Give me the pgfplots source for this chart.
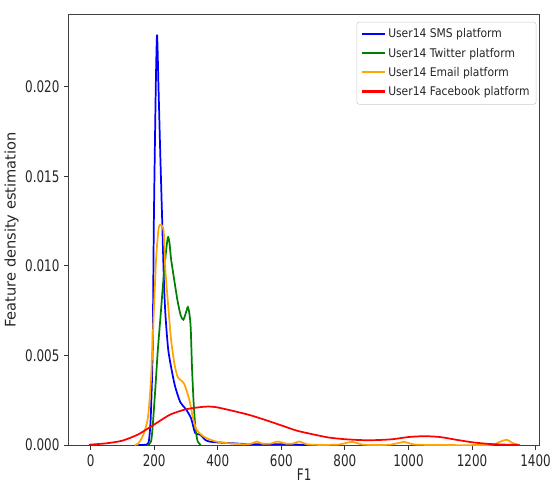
\documentclass[border=0pt]{standalone}
\usepackage{pgfplots}
\pgfplotsset{compat=1.18}
\usepackage{fontspec}
\setmainfont[FakeStretch=0.75]{DejaVu Sans}
\newfontfamily\legfont[FakeStretch=0.9]{DejaVu Sans}
\newfontfamily\labfont{DejaVu Sans}

\definecolor{mplblue}{HTML}{0000FF}
\definecolor{mplgreen}{HTML}{008000}
\definecolor{mplorange}{HTML}{FFA500}
\definecolor{mplred}{HTML}{FF0000}

\begin{document}
\begin{tikzpicture}
% fixed canvas around the axis frame
\path[use as bounding box] (-51.75pt,-31.5pt) rectangle (362.5pt,335.25pt);
\begin{axis}[
  at={(0pt,0pt)}, anchor=south west,
  scale only axis,
  width=354.75pt, height=324pt,
  xmin=-69, xmax=1413,
  ymin=0, ymax=0.024,
  xtick={0,200,400,600,800,1000,1200,1400},
  xticklabels={0,200,400,600,800,1000,1200,1400},
  ytick={0,0.005,0.010,0.015,0.020},
  yticklabels={0.000,0.005,0.010,0.015,0.020},
  scaled y ticks=false,
  tick pos=left,
  /pgf/number format/assume math mode=true,
  tick align=outside,
  major tick length=3.5pt,
  tick style={black!80, line width=0.6pt},
  axis line style={black!75, line width=0.7pt},
  every tick label/.append style={font=\fontsize{12}{14}\selectfont, text=black!85},
  xlabel={F1},
  ylabel={Feature density estimation},
  xlabel style={font=\fontsize{12}{14}\selectfont, text=black!85, yshift=5pt},
  ylabel style={font=\labfont\fontsize{11}{13}\selectfont, text=black!85, yshift=-2pt},
  legend style={
    at={(rel axis cs:0.993,0.984)}, anchor=north east,
    font=\legfont\fontsize{9}{11}\selectfont,
    draw=black!20, rounded corners=2pt, fill=white,
    row sep=2.2pt, inner sep=3pt,
    text=black!85,
  },
  legend cell align=left,
  legend image code/.code={\draw[#1, line width=1.6pt] (0cm,0.5pt) -- (0.6cm,0.5pt);},
  every axis plot/.append style={line width=1.3pt, smooth, tension=0.4},
]
% SMS platform
\addplot[color=mplblue] coordinates {
(150,0) (175,0.00003) (183,0.0002) (189,0.0015) (195,0.0052) (199,0.0126)
(205,0.0200) (209,0.0229) (213.5,0.0200) (219,0.0163) (225,0.0126)
(231,0.0089) (236,0.0071) (245,0.0052) (264,0.0034) (282,0.0024)
(300,0.0020) (316,0.0015) (328,0.0007) (335,0.0006) (342,0.0006)
(350,0.0005) (360,0.0003) (373,0.0002) (400,0.00015) (450,0.0001)
(500,0.00005) (550,0.00005) (600,0.00005) (650,0.00003) (680,0)
};
\addlegendentry{User14 SMS platform}
% Twitter platform
\addplot[color=mplgreen] coordinates {
(180,0) (190,0.0002) (195,0.001) (203,0.003) (211,0.0052) (220,0.0072)
(227,0.0088) (236,0.0106) (243,0.0116) (248,0.0113) (253,0.0104)
(264,0.0091) (274,0.0080) (284,0.0072) (292,0.0070) (300,0.0074)
(306,0.0077) (311,0.0073) (315,0.0065) (319,0.0043) (324,0.0024)
(330,0.0009) (337,0.0002) (347,0)
};
\addlegendentry{User14 Twitter platform}
% Email platform
\addplot[color=mplorange] coordinates {
(140,0) (150,0.0001) (164,0.0005) (180,0.0015) (190,0.0037) (198,0.0071)
(206,0.0104) (214,0.0121) (222,0.0123) (230,0.0119) (235,0.0098)
(243,0.0080) (253,0.0059) (264,0.0045) (274,0.0038) (285,0.0036)
(295,0.0034) (311,0.0025) (321,0.0016) (332,0.0009) (347,0.0006)
(363,0.0004) (395,0.0002) (437,0.0001) (480,0.00005) (505,0.00008)
(523,0.0002) (540,0.00008) (565,0.00008) (589,0.0002) (615,0.00008)
(635,0.00008) (656,0.0002) (680,0.00005) (720,0.00001) (780,0.00003)
(822,0.00018) (860,0.00002) (940,0.00002) (988,0.00018) (1030,0.00002)
(1250,0.00001) (1290,0.0002) (1309,0.0003) (1330,0.0001) (1350,0)
};
\addlegendentry{User14 Email platform}
% Facebook platform
\addplot[color=mplred] coordinates {
(-5,0.00002) (0,0.00003) (50,0.0001) (100,0.00025) (150,0.0006)
(200,0.00115) (250,0.0017) (300,0.0020) (350,0.00213) (375,0.00215)
(400,0.0021) (450,0.0019) (500,0.00168) (550,0.0014) (600,0.0011)
(650,0.0008) (700,0.0006) (750,0.00042) (800,0.00033) (850,0.00028)
(900,0.00028) (950,0.00033) (1000,0.00045) (1050,0.0005) (1100,0.00045)
(1150,0.0003) (1200,0.00016) (1250,0.00007) (1300,0.00003) (1350,0.00001)
};
\addlegendentry{User14 Facebook platform}
\end{axis}
\end{tikzpicture}
\end{document}
